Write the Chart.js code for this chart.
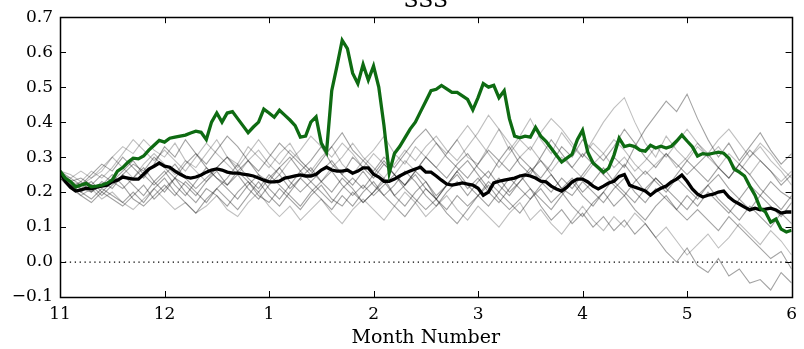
<!DOCTYPE html>
<html>
<head>
<meta charset="utf-8">
<script src="https://cdn.jsdelivr.net/npm/chart.js@4/dist/chart.umd.min.js"></script>
<style>
  html, body { margin: 0; padding: 0; background: #fff; }
  #wrap { width: 804px; height: 349px; position: relative; }
</style>
</head>
<body>
<div id="wrap"><canvas id="c"></canvas></div>
<script>
// Month tick labels along the x axis (Nov .. Jun)
const monthLabels = ['11', '12', '1', '2', '3', '4', '5', '6'];

// Spacing of the samples, in months
const fineStep = 0.05;
const coarseStep = 0.1;

// Observed SSS anomaly (green)
const observed = [
  0.26, 0.24, 0.23, 0.215, 0.22, 0.225, 0.215, 0.217, 0.22, 0.225,
  0.235, 0.26, 0.27, 0.285, 0.297, 0.295, 0.303, 0.32, 0.334, 0.348,
  0.343, 0.354, 0.357, 0.36, 0.363, 0.369, 0.374, 0.371, 0.35, 0.40,
  0.426, 0.40, 0.426, 0.43, 0.41, 0.39, 0.37, 0.386, 0.40, 0.437,
  0.426, 0.414, 0.434, 0.42, 0.406, 0.39, 0.357, 0.36, 0.40, 0.415,
  0.34, 0.314, 0.49, 0.56, 0.634, 0.61, 0.54, 0.51, 0.565, 0.52,
  0.56, 0.50, 0.39, 0.255, 0.31, 0.33, 0.355, 0.38, 0.40, 0.43,
  0.46, 0.49, 0.494, 0.505, 0.495, 0.485, 0.485, 0.475, 0.465, 0.435,
  0.47, 0.51, 0.50, 0.505, 0.47, 0.49, 0.41, 0.36, 0.355, 0.36,
  0.357, 0.385, 0.36, 0.345, 0.325, 0.305, 0.286, 0.297, 0.308, 0.35,
  0.377, 0.314, 0.283, 0.27, 0.257, 0.268, 0.305, 0.354, 0.33, 0.334,
  0.33, 0.32, 0.317, 0.334, 0.326, 0.331, 0.326, 0.331, 0.346, 0.363,
  0.346, 0.33, 0.303, 0.31, 0.308, 0.311, 0.314, 0.311, 0.297, 0.266,
  0.257, 0.246, 0.217, 0.191, 0.154, 0.143, 0.114, 0.123, 0.094, 0.086,
  0.091
];

// Ensemble mean (black)
const ensembleMean = [
  0.257, 0.231, 0.214, 0.203, 0.206, 0.211, 0.209, 0.214, 0.217, 0.22,
  0.229, 0.234, 0.243, 0.24, 0.237, 0.237, 0.251, 0.266, 0.274, 0.283,
  0.274, 0.271, 0.26, 0.251, 0.243, 0.24, 0.243, 0.249, 0.257, 0.263,
  0.266, 0.263, 0.257, 0.254, 0.254, 0.251, 0.249, 0.246, 0.24, 0.234,
  0.229, 0.229, 0.231, 0.24, 0.243, 0.246, 0.249, 0.246, 0.246, 0.251,
  0.263, 0.271, 0.263, 0.26, 0.26, 0.263, 0.254, 0.26, 0.269, 0.269,
  0.251, 0.243, 0.231, 0.231, 0.237, 0.246, 0.254, 0.26, 0.266, 0.271,
  0.257, 0.257, 0.246, 0.234, 0.223, 0.22, 0.223, 0.226, 0.223, 0.22,
  0.211, 0.191, 0.2, 0.226, 0.231, 0.234, 0.237, 0.24, 0.246, 0.249,
  0.246, 0.24, 0.231, 0.229, 0.217, 0.209, 0.203, 0.214, 0.229, 0.237,
  0.237, 0.229, 0.217, 0.209, 0.217, 0.226, 0.231, 0.245, 0.25, 0.22,
  0.214, 0.209, 0.203, 0.191, 0.203, 0.211, 0.217, 0.229, 0.237, 0.249,
  0.231, 0.209, 0.194, 0.186, 0.191, 0.194, 0.2, 0.203, 0.186, 0.174,
  0.166, 0.157, 0.149, 0.154, 0.149, 0.151, 0.154, 0.149, 0.14, 0.143,
  0.143
];

// Individual ensemble members (grey)
const member01 = [0.25,0.23,0.22,0.24,0.26,0.30,0.33,0.31,0.35,0.32, 0.30,0.34,0.29,0.27,0.31,0.35,0.30,0.28,0.33,0.30, 0.27,0.31,0.34,0.29,0.26,0.30,0.33,0.28,0.25,0.29, 0.32,0.36,0.31,0.28,0.33,0.30,0.27,0.31,0.35,0.30, 0.28,0.33,0.38,0.32,0.36,0.41,0.35,0.31,0.37,0.33, 0.30,0.35,0.40,0.44,0.47,0.40,0.34,0.30,0.36,0.32, 0.29,0.33,0.30,0.27,0.31,0.28,0.25,0.29,0.26,0.23,0.26];
const member02 = [0.24,0.22,0.21,0.20,0.23,0.21,0.25,0.28,0.26,0.30, 0.27,0.24,0.28,0.31,0.27,0.24,0.22,0.26,0.29,0.25, 0.23,0.27,0.30,0.26,0.29,0.33,0.28,0.25,0.30,0.27, 0.24,0.28,0.25,0.22,0.26,0.30,0.27,0.24,0.28,0.31, 0.27,0.24,0.29,0.33,0.28,0.25,0.30,0.35,0.31,0.27, 0.31,0.28,0.25,0.30,0.27,0.33,0.38,0.42,0.46,0.43, 0.48,0.41,0.35,0.30,0.34,0.29,0.33,0.37,0.32,0.28,0.31];
const member03 = [0.25,0.22,0.19,0.17,0.20,0.18,0.16,0.19,0.22,0.18, 0.21,0.24,0.20,0.17,0.21,0.19,0.16,0.20,0.23,0.19, 0.17,0.21,0.18,0.15,0.19,0.22,0.18,0.16,0.20,0.17, 0.20,0.24,0.19,0.16,0.20,0.23,0.18,0.15,0.19,0.16, 0.19,0.22,0.18,0.15,0.18,0.21,0.16,0.12,0.15,0.11, 0.14,0.10,0.13,0.09,0.12,0.08,0.11,0.07,0.03,0.00, 0.04,-0.01,-0.03,0.01,-0.04,-0.02,-0.06,-0.05,-0.08,-0.03,-0.06];
const member04 = [0.24,0.21,0.19,0.21,0.18,0.20,0.17,0.15,0.18,0.21, 0.18,0.15,0.17,0.14,0.16,0.19,0.15,0.13,0.17,0.20, 0.16,0.13,0.16,0.12,0.15,0.18,0.14,0.11,0.15,0.18, 0.15,0.12,0.16,0.20,0.17,0.13,0.16,0.19,0.15,0.12, 0.16,0.13,0.10,0.14,0.17,0.12,0.15,0.11,0.08,0.12, 0.16,0.12,0.09,0.13,0.10,0.14,0.11,0.07,0.10,0.06, 0.02,0.05,0.08,0.04,0.07,0.11,0.08,0.05,0.09,0.06,0.02];
const member05 = [0.26,0.24,0.22,0.25,0.28,0.26,0.30,0.27,0.24,0.28, 0.33,0.30,0.35,0.31,0.28,0.32,0.36,0.33,0.29,0.26, 0.30,0.34,0.31,0.28,0.25,0.29,0.33,0.37,0.32,0.29, 0.26,0.30,0.27,0.31,0.35,0.38,0.34,0.30,0.27,0.24, 0.28,0.32,0.29,0.26,0.30,0.27,0.24,0.28,0.33,0.30, 0.35,0.32,0.29,0.33,0.38,0.34,0.30,0.27,0.31,0.28, 0.25,0.28,0.31,0.27,0.24,0.28,0.32,0.29,0.26,0.22,0.25];
const member06 = [0.25,0.23,0.24,0.22,0.25,0.23,0.21,0.24,0.27,0.23, 0.20,0.24,0.22,0.19,0.23,0.26,0.22,0.25,0.21,0.18, 0.22,0.25,0.21,0.24,0.27,0.23,0.20,0.24,0.21,0.17, 0.20,0.23,0.19,0.22,0.25,0.21,0.18,0.22,0.26,0.22, 0.19,0.23,0.20,0.24,0.21,0.18,0.22,0.25,0.21,0.19, 0.23,0.20,0.17,0.21,0.24,0.20,0.17,0.21,0.18,0.15, 0.19,0.16,0.20,0.17,0.14,0.18,0.15,0.19,0.16,0.13,0.17];
const member07 = [0.26,0.25,0.23,0.26,0.24,0.27,0.31,0.35,0.32,0.29, 0.32,0.29,0.26,0.30,0.34,0.31,0.28,0.25,0.29,0.32, 0.28,0.25,0.29,0.32,0.36,0.33,0.30,0.34,0.31,0.27, 0.31,0.28,0.25,0.29,0.26,0.30,0.34,0.31,0.35,0.39, 0.35,0.31,0.27,0.31,0.35,0.32,0.37,0.41,0.38,0.34, 0.30,0.34,0.31,0.27,0.30,0.26,0.29,0.33,0.30,0.34, 0.38,0.34,0.30,0.33,0.29,0.26,0.30,0.34,0.31,0.27,0.24];
const member08 = [0.24,0.22,0.20,0.22,0.19,0.22,0.25,0.22,0.19,0.23, 0.26,0.22,0.19,0.23,0.27,0.24,0.21,0.18,0.22,0.25, 0.21,0.18,0.22,0.26,0.23,0.20,0.17,0.21,0.24,0.21, 0.25,0.29,0.25,0.22,0.26,0.23,0.19,0.22,0.26,0.29, 0.25,0.21,0.24,0.20,0.23,0.27,0.23,0.20,0.24,0.21, 0.25,0.29,0.25,0.22,0.19,0.23,0.26,0.23,0.20,0.24, 0.21,0.18,0.22,0.25,0.21,0.18,0.22,0.19,0.23,0.20,0.18];
const member09 = [0.25,0.22,0.20,0.18,0.21,0.19,0.17,0.20,0.17,0.21, 0.24,0.20,0.17,0.14,0.18,0.21,0.18,0.15,0.19,0.23, 0.19,0.16,0.20,0.24,0.21,0.18,0.15,0.19,0.16,0.20, 0.23,0.19,0.16,0.13,0.17,0.21,0.18,0.14,0.11,0.15, 0.19,0.16,0.20,0.17,0.14,0.18,0.21,0.17,0.20,0.16, 0.13,0.17,0.20,0.16,0.19,0.15,0.12,0.16,0.19,0.15, 0.12,0.15,0.12,0.09,0.13,0.10,0.07,0.04,0.01,0.03,-0.02];
const member10 = [0.25,0.24,0.26,0.24,0.27,0.30,0.27,0.24,0.28,0.31, 0.28,0.25,0.29,0.26,0.23,0.27,0.30,0.27,0.31,0.35, 0.31,0.28,0.32,0.29,0.26,0.23,0.27,0.30,0.34,0.30, 0.27,0.24,0.28,0.32,0.29,0.33,0.36,0.32,0.29,0.33, 0.37,0.42,0.38,0.34,0.30,0.33,0.29,0.26,0.30,0.27, 0.24,0.28,0.31,0.35,0.32,0.28,0.25,0.28,0.31,0.27, 0.30,0.34,0.31,0.35,0.38,0.34,0.30,0.33,0.29,0.26,0.22];
const member11 = [0.26,0.23,0.21,0.23,0.20,0.23,0.26,0.29,0.25,0.22, 0.25,0.28,0.24,0.21,0.24,0.27,0.30,0.26,0.23,0.20, 0.24,0.27,0.23,0.20,0.23,0.26,0.29,0.25,0.22,0.26, 0.22,0.19,0.22,0.26,0.23,0.19,0.16,0.20,0.23,0.19, 0.23,0.26,0.22,0.19,0.23,0.26,0.29,0.25,0.21,0.24, 0.20,0.23,0.27,0.23,0.20,0.17,0.21,0.24,0.21,0.18, 0.15,0.19,0.22,0.18,0.15,0.12,0.16,0.13,0.10,0.14,0.11];
const member12 = [0.24,0.21,0.23,0.20,0.22,0.25,0.22,0.18,0.16,0.19, 0.22,0.19,0.23,0.20,0.17,0.21,0.24,0.28,0.24,0.21, 0.25,0.22,0.19,0.16,0.20,0.23,0.26,0.22,0.19,0.22, 0.19,0.22,0.25,0.21,0.18,0.15,0.18,0.22,0.25,0.21, 0.24,0.20,0.17,0.21,0.25,0.21,0.18,0.15,0.19,0.23, 0.19,0.16,0.20,0.24,0.28,0.24,0.20,0.24,0.21,0.25, 0.29,0.26,0.23,0.27,0.24,0.28,0.25,0.21,0.18,0.15,0.19];

const members = [member01, member02, member03, member04, member05, member06,
                 member07, member08, member09, member10, member11, member12];

// Y axis range and tick spacing
const yMin = -0.1, yMax = 0.7, yStep = 0.1;

const toPoints = (vals, step) => vals.map((v, i) => ({ x: i * step, y: v }));

const FONT = "'DejaVu Serif', 'Liberation Serif', serif";

const datasets = [];
datasets.push({
  label: 'observed', data: toPoints(observed, fineStep),
  borderColor: '#0e6b12', borderWidth: 3.3, order: 0
});
datasets.push({
  label: 'mean', data: toPoints(ensembleMean, fineStep),
  borderColor: '#000000', borderWidth: 3.3, order: 1
});
datasets.push({
  label: 'zero', data: [{ x: 0, y: 0 }, { x: monthLabels.length - 1, y: 0 }],
  borderColor: '#000000', borderWidth: 1.2, borderDash: [1.3, 3.6], order: 2
});
members.forEach((m, k) => {
  datasets.push({
    label: 'member ' + (k + 1), data: toPoints(m, coarseStep),
    borderColor: k % 3 === 0 ? 'rgba(0,0,0,0.25)' : 'rgba(0,0,0,0.36)',
    borderWidth: 1.1, order: 3
  });
});

// Frame, inward ticks on all four sides and the title
const framePlugin = {
  id: 'frame',
  afterDatasetsDraw(chart) {
    const { ctx, chartArea: a, scales: { x, y } } = chart;
    const t = 6;
    ctx.save();
    ctx.strokeStyle = '#000';
    ctx.lineWidth = 1;
    ctx.beginPath();
    x.ticks.forEach(tk => {
      const px = Math.round(x.getPixelForValue(tk.value)) + 0.5;
      ctx.moveTo(px, a.bottom); ctx.lineTo(px, a.bottom - t);
      ctx.moveTo(px, a.top); ctx.lineTo(px, a.top + t);
    });
    y.ticks.forEach(tk => {
      const py = Math.round(y.getPixelForValue(tk.value)) + 0.5;
      ctx.moveTo(a.left, py); ctx.lineTo(a.left + t, py);
      ctx.moveTo(a.right, py); ctx.lineTo(a.right - t, py);
    });
    ctx.stroke();
    ctx.lineWidth = 1.5;
    ctx.strokeRect(Math.round(a.left) + 0.5, Math.round(a.top) + 0.5,
                   Math.round(a.right - a.left), Math.round(a.bottom - a.top));
    ctx.fillStyle = '#000';
    ctx.font = '22px ' + FONT;
    ctx.textAlign = 'center';
    ctx.textBaseline = 'alphabetic';
    ctx.fillText('SSS', (a.left + a.right) / 2, a.top - 10);
    ctx.restore();
  }
};

new Chart(document.getElementById('c'), {
  type: 'line',
  data: { datasets },
  options: {
    responsive: true,
    maintainAspectRatio: false,
    animation: false,
    events: [],
    layout: { padding: { left: 0, right: 9, top: 17, bottom: 0 } },
    elements: {
      line: { tension: 0, fill: false, borderCapStyle: 'butt', borderJoinStyle: 'miter' },
      point: { radius: 0 }
    },
    plugins: { legend: { display: false }, tooltip: { enabled: false }, title: { display: false } },
    scales: {
      x: {
        type: 'linear', min: 0, max: monthLabels.length - 1,
        grid: { display: false, drawTicks: false },
        border: { display: false },
        afterFit(s) { s.height = 52; },
        afterBuildTicks(s) { s.ticks = monthLabels.map((_, i) => ({ value: i })); },
        ticks: {
          color: '#000', padding: 7, maxRotation: 0, autoSkip: false,
          font: { family: FONT, size: 17 },
          callback: (v) => monthLabels[Math.round(v)]
        },
        title: {
          display: true, text: 'Month Number', color: '#000',
          font: { family: FONT, size: 19 }, padding: { top: 0, bottom: 0 }
        }
      },
      y: {
        type: 'linear', min: yMin, max: yMax,
        grid: { display: false, drawTicks: false },
        border: { display: false },
        afterFit(s) { s.width = 60; },
        ticks: {
          color: '#000', padding: 7, stepSize: yStep,
          font: { family: FONT, size: 17 },
          callback: (v) => {
            const s = (Math.round(v * 10) / 10).toFixed(1);
            return s.replace('-', '\u2212');
          }
        }
      }
    }
  },
  plugins: [framePlugin]
});
</script>
</body>
</html>
